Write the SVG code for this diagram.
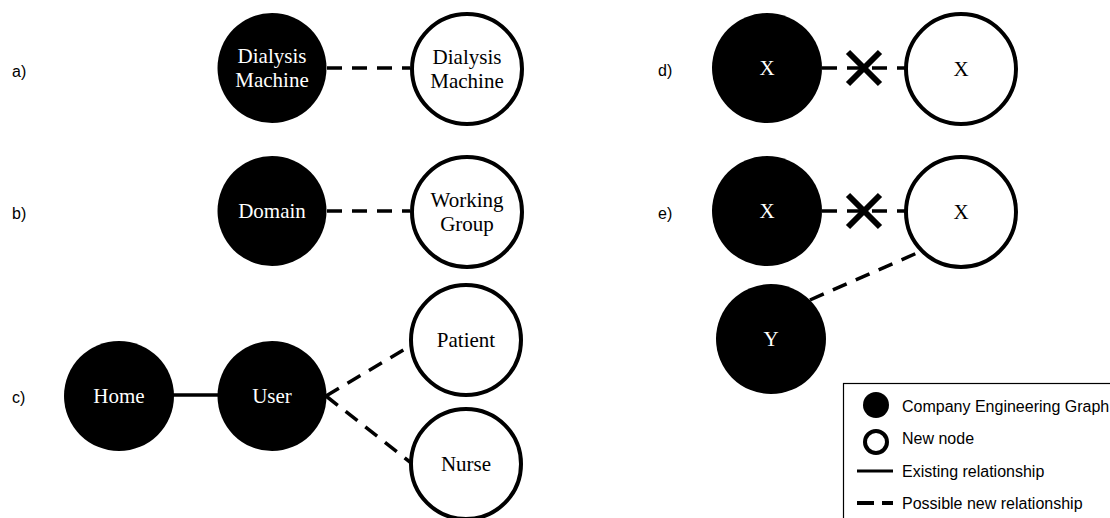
<svg xmlns="http://www.w3.org/2000/svg" width="1110" height="518" viewBox="0 0 1110 518">
  <style>
    .bg { fill: #ffffff; }
    .old { fill: #000000; }
    .new { fill: #ffffff; stroke: #000000; stroke-width: 4; }
    .tw { font-family: "Liberation Serif", "Times New Roman", serif; font-size: 21px; fill: #ffffff; text-anchor: middle; }
    .tb { font-family: "Liberation Serif", "Times New Roman", serif; font-size: 21px; fill: #000000; text-anchor: middle; }
    .lab { font-family: "Liberation Sans", Arial, sans-serif; font-size: 16px; fill: #000000; }
    .solid { stroke: #000000; stroke-width: 3.5; fill: none; }
    .dash { stroke: #000000; stroke-width: 3.5; fill: none; stroke-dasharray: 15 10; }
    .cross { stroke: #000000; stroke-width: 6; fill: none; }
  </style>
  <rect class="bg" x="0" y="0" width="1110" height="518"/>

  <g id="labels">
    <text class="lab" x="12" y="77">a)</text>
    <text class="lab" x="12" y="219">b)</text>
    <text class="lab" x="12" y="403">c)</text>
    <text class="lab" x="658" y="76">d)</text>
    <text class="lab" x="658" y="219">e)</text>
  </g>

  <g id="connectors">
    <line class="dash" x1="327" y1="68" x2="410" y2="68"/>
    <line class="dash" x1="327" y1="211" x2="410" y2="211"/>
    <line class="solid" x1="172" y1="395" x2="220" y2="395"/>
    <line class="dash" x1="326" y1="396" x2="410" y2="346"/>
    <line class="dash" x1="326" y1="396" x2="410" y2="462"/>
    <line class="dash" x1="822" y1="68" x2="905" y2="68"/>
    <line class="dash" x1="822" y1="211" x2="905" y2="211"/>
    <line class="dash" x1="810" y1="300" x2="917" y2="253"/>
    <g id="cross-d">
      <line class="cross" x1="848" y1="52" x2="880" y2="84"/>
      <line class="cross" x1="880" y1="52" x2="848" y2="84"/>
    </g>
    <g id="cross-e">
      <line class="cross" x1="848" y1="195" x2="880" y2="227"/>
      <line class="cross" x1="880" y1="195" x2="848" y2="227"/>
    </g>
  </g>

  <g id="a-old">
    <ellipse class="old" cx="272" cy="68" rx="54.5" ry="55"/>
    <text class="tw" x="272" y="63">Dialysis</text>
    <text class="tw" x="272" y="87">Machine</text>
  </g>
  <g id="a-new">
    <ellipse class="new" cx="467" cy="69" rx="55" ry="55"/>
    <text class="tb" x="467" y="64">Dialysis</text>
    <text class="tb" x="467" y="88">Machine</text>
  </g>

  <g id="b-old">
    <ellipse class="old" cx="272" cy="211" rx="54.5" ry="55"/>
    <text class="tw" x="272" y="218">Domain</text>
  </g>
  <g id="b-new">
    <ellipse class="new" cx="467" cy="212" rx="55" ry="55"/>
    <text class="tb" x="467" y="207">Working</text>
    <text class="tb" x="467" y="231">Group</text>
  </g>

  <g id="c-home">
    <ellipse class="old" cx="119" cy="396" rx="55" ry="55"/>
    <text class="tw" x="119" y="403">Home</text>
  </g>
  <g id="c-user">
    <ellipse class="old" cx="272" cy="396" rx="54.5" ry="55"/>
    <text class="tw" x="272" y="403">User</text>
  </g>
  <g id="c-patient">
    <ellipse class="new" cx="466" cy="340" rx="55" ry="55"/>
    <text class="tb" x="466" y="347">Patient</text>
  </g>
  <g id="c-nurse">
    <ellipse class="new" cx="466" cy="464" rx="55" ry="55"/>
    <text class="tb" x="466" y="471">Nurse</text>
  </g>

  <g id="d-old">
    <ellipse class="old" cx="767" cy="68" rx="55" ry="55"/>
    <text class="tw" x="767" y="75">X</text>
  </g>
  <g id="d-new">
    <ellipse class="new" cx="961" cy="69" rx="55" ry="55"/>
    <text class="tb" x="961" y="76">X</text>
  </g>

  <g id="e-old">
    <ellipse class="old" cx="767" cy="211" rx="55" ry="55"/>
    <text class="tw" x="767" y="218">X</text>
  </g>
  <g id="e-new">
    <ellipse class="new" cx="961" cy="212" rx="55" ry="55"/>
    <text class="tb" x="961" y="219">X</text>
  </g>
  <g id="e-y">
    <ellipse class="old" cx="771" cy="339" rx="55" ry="55"/>
    <text class="tw" x="771" y="346">Y</text>
  </g>

  <g id="legend">
    <rect x="843.5" y="383.5" width="280" height="150" fill="#ffffff" stroke="#000000" stroke-width="1.2"/>
    <circle cx="876" cy="405" r="13" fill="#000000"/>
    <text class="lab" x="902" y="412">Company Engineering Graph</text>
    <circle cx="876" cy="442" r="11" fill="#ffffff" stroke="#000000" stroke-width="4"/>
    <text class="lab" x="902" y="444">New node</text>
    <line x1="857" y1="471" x2="893" y2="471" stroke="#000000" stroke-width="3"/>
    <text class="lab" x="902" y="477">Existing relationship</text>
    <line x1="857" y1="503" x2="874" y2="503" stroke="#000000" stroke-width="4"/>
    <line x1="882" y1="503" x2="893" y2="503" stroke="#000000" stroke-width="4"/>
    <text class="lab" x="902" y="509">Possible new relationship</text>
  </g>
</svg>
